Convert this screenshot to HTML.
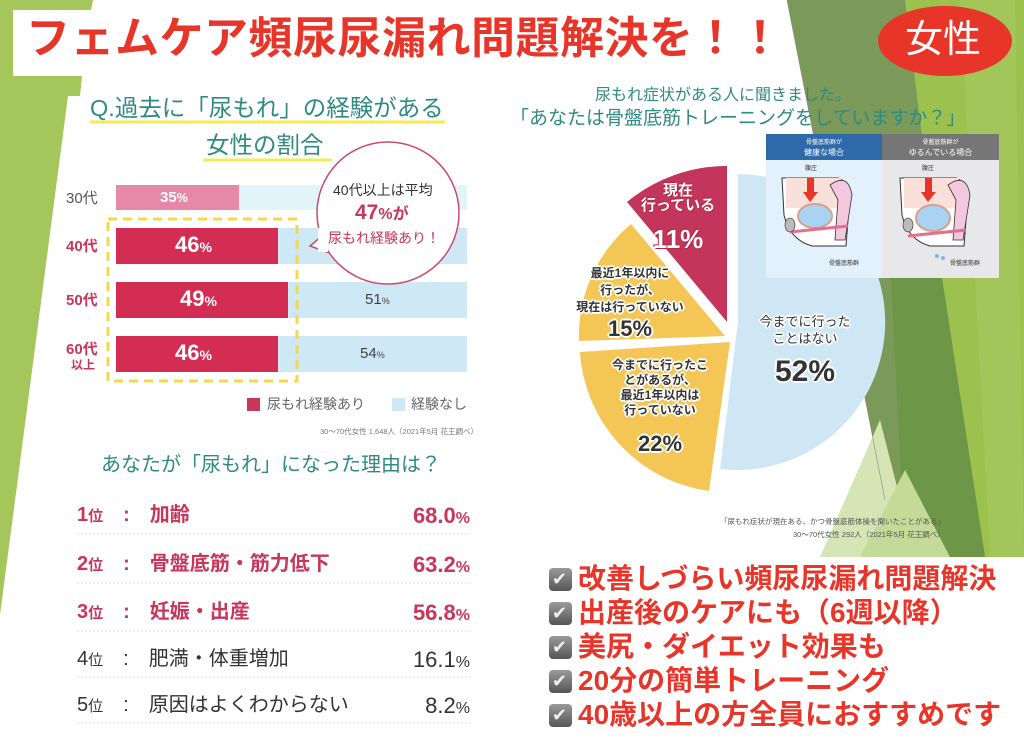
<!DOCTYPE html>
<html><head><meta charset="utf-8">
<style>
body{margin:0;width:1024px;height:742px;overflow:hidden;background:#fff;position:relative;font-family:"Liberation Sans","Noto Sans CJK JP",sans-serif;}
.a{position:absolute;white-space:nowrap;line-height:1;}
.teal{color:#2f8a82;}
.o{text-shadow:1px 1px 0 #fff,-1px -1px 0 #fff,1px -1px 0 #fff,-1px 1px 0 #fff,0 2px 0 #fff,2px 0 0 #fff,0 -2px 0 #fff,-2px 0 0 #fff;color:#333;font-weight:bold;text-align:center;}
.w{color:#fff;text-shadow:1px 1px 0 #b02848,-1px -1px 0 #b02848;}
.rk{font-size:20px;font-weight:bold;}
.chk{position:absolute;left:549px;width:23px;height:23px;border-radius:4px;background:linear-gradient(#9a9a9a,#555);}
.chk:after{content:"✔";position:absolute;left:3px;top:0;color:#eee;font-size:18px;line-height:23px;}
.cl{position:absolute;left:578px;font-size:28px;font-weight:bold;color:#e8352a;line-height:1;white-space:nowrap;}
</style></head><body>
<svg width="1024" height="742" style="position:absolute;left:0;top:0">
<polygon points="0,0 93,0 91,10 13,10 13,76 82,76 80,96 68,96 0,615" fill="#a4c65a"/>
<polygon points="787,0 1024,0 1024,557 820,557 885,500" fill="#9dc14f"/>
<polygon points="787,0 905,0 930,200 985,557 900,557 885,500" fill="#7b9a59"/>
<polygon points="890,260 930,200 985,557 905,557" fill="#6d9646"/>
<polygon points="960,0 1015,0 1024,557 990,557" fill="#a3c65a"/>
<polygon points="820,557 880,420 915,557" fill="#d6e5b5"/>
<polygon points="860,557 905,470 950,557" fill="#c4da98"/>
<line x1="787" y1="0" x2="885" y2="500" stroke="#888" stroke-width="0.6"/>
<ellipse cx="945" cy="41" rx="67" ry="35" fill="#e8352a"/>
<rect x="116" y="185" width="351" height="25" fill="#e3f3fa"/>
<rect x="116" y="185" width="123" height="25" fill="#e689a8"/>
<rect x="116" y="228" width="351" height="36" fill="#cfe8f5"/>
<rect x="116" y="228" width="162" height="36" fill="#d42d53"/>
<rect x="116" y="282" width="351" height="36" fill="#cfe8f5"/>
<rect x="116" y="282" width="172" height="36" fill="#d42d53"/>
<rect x="116" y="336" width="351" height="36" fill="#cfe8f5"/>
<rect x="116" y="336" width="162" height="36" fill="#d42d53"/>
<rect x="108" y="219" width="189" height="162" fill="none" stroke="#f5d94a" stroke-width="3" stroke-dasharray="9,6"/>
<line x1="90" y1="122" x2="445" y2="122" stroke="#f6ea55" stroke-width="3"/>
<line x1="203" y1="160" x2="332" y2="160" stroke="#f6ea55" stroke-width="3"/>
<polygon points="310,246 335,225 335,255" fill="#fff" stroke="#c94a6c" stroke-width="1.5"/>
<circle cx="388" cy="213" r="71" fill="#fff" stroke="#c94a6c" stroke-width="1.5"/>
<rect x="318" y="228" width="10" height="24" fill="#fff"/>
<rect x="247" y="398" width="13" height="13" fill="#c8365a"/>
<rect x="392" y="398" width="13" height="13" fill="#cfe8f5"/>
<g stroke="#ddd" stroke-dasharray="2,2">
<line x1="77" y1="534" x2="470" y2="534"/><line x1="77" y1="583" x2="470" y2="583"/>
<line x1="77" y1="631" x2="470" y2="631"/><line x1="77" y1="677" x2="470" y2="677"/>
<line x1="77" y1="723" x2="470" y2="723"/></g>
<path d="M738,322 L738,174 A148,148 0 1,1 720,469 Z" fill="#cfe7f5"/>
<path d="M730,342 L709,491 A150,150 0 0,1 580,352 Z" fill="#f4c655"/>
<path d="M725,336 L579,341 A146,146 0 0,1 631,224 Z" fill="#f4c655"/>
<path d="M727,322 L627,202 A156,156 0 0,1 727,166 Z" fill="#c3355a"/>
<rect x="766" y="134" width="233" height="144" rx="3" fill="#e2f1fb"/>
<rect x="882" y="134" width="117" height="144" fill="#e8e8ea"/>
<rect x="766" y="134" width="116" height="26" fill="#2e6aaa"/>
<rect x="882" y="134" width="117" height="26" fill="#767676"/>
<g>
<path d="M782,178 L838,178 Q850,180 848,220 L846,246 L812,246 Q790,240 784,215 Z" fill="#fff" stroke="#333"/>
<rect x="786" y="178" width="55" height="30" fill="#f9e0da"/>
<path d="M830,185 Q848,172 852,195 L845,240 L835,240 L838,200 Z" fill="#f3c7de" stroke="#333" stroke-width="0.8"/>
<ellipse cx="815" cy="216" rx="17" ry="12" fill="#a9d3f2" stroke="#d9a08a" stroke-width="2"/>
<rect x="807" y="178" width="7" height="14" fill="#e8352a"/><polygon points="803,192 818,192 810,202" fill="#e8352a"/>
<line x1="790" y1="232" x2="848" y2="226" stroke="#e0708e" stroke-width="3"/>
<ellipse cx="790" cy="225" rx="5" ry="7" fill="#bbb" stroke="#333" stroke-width="0.6"/>
</g>
<g>
<path d="M900,178 L956,178 Q968,180 966,220 L964,246 L930,246 Q908,240 902,215 Z" fill="#fff" stroke="#333"/>
<rect x="904" y="178" width="55" height="30" fill="#f9e0da"/>
<path d="M948,185 Q966,172 970,195 L963,240 L953,240 L956,200 Z" fill="#f3c7de" stroke="#333" stroke-width="0.8"/>
<ellipse cx="933" cy="218" rx="17" ry="13" fill="#a9d3f2" stroke="#d9a08a" stroke-width="2"/>
<rect x="925" y="178" width="7" height="14" fill="#e8352a"/><polygon points="921,192 936,192 928,202" fill="#e8352a"/>
<line x1="908" y1="236" x2="966" y2="230" stroke="#e0708e" stroke-width="3"/>
<ellipse cx="908" cy="225" rx="5" ry="7" fill="#bbb" stroke="#333" stroke-width="0.6"/>
<circle cx="937" cy="256" r="2" fill="#7ab8e8"/><circle cx="943" cy="258" r="2" fill="#7ab8e8"/>
</g>
</svg>

<div class="a" style="left:26px;top:17px;font-size:44px;font-weight:bold;color:#e8352a;letter-spacing:0.5px;">フェムケア頻尿尿漏れ問題解決を！！</div>
<div class="a" style="left:905px;top:21px;font-size:38px;color:#fff;">女性</div>

<div class="a teal" style="left:90px;top:97px;font-size:23.5px;">Q.過去に「尿もれ」の経験がある</div>
<div class="a teal" style="left:206px;top:134px;font-size:23.5px;">女性の割合</div>

<div class="a" style="left:66px;top:191px;font-size:15px;color:#555;">30代</div>
<div class="a" style="left:66px;top:239px;font-size:15px;color:#c8365a;font-weight:bold;">40代</div>
<div class="a" style="left:66px;top:293px;font-size:15px;color:#c8365a;font-weight:bold;">50代</div>
<div class="a" style="left:66px;top:342px;font-size:15px;color:#c8365a;font-weight:bold;">60代</div>
<div class="a" style="left:71px;top:359px;font-size:12px;color:#c8365a;font-weight:bold;">以上</div>

<div class="a" style="left:160px;top:190px;font-size:15px;color:#fff;font-weight:bold;">35<small>%</small></div>
<div class="a" style="left:175px;top:234px;font-size:22px;color:#fff;font-weight:bold;">46<small style="font-size:14px">%</small></div>
<div class="a" style="left:180px;top:288px;font-size:22px;color:#fff;font-weight:bold;">49<small style="font-size:14px">%</small></div>
<div class="a" style="left:175px;top:342px;font-size:22px;color:#fff;font-weight:bold;">46<small style="font-size:14px">%</small></div>
<div class="a" style="left:365px;top:292px;font-size:15px;color:#444;">51<small style="font-size:9px">%</small></div>
<div class="a" style="left:360px;top:346px;font-size:15px;color:#444;">54<small style="font-size:9px">%</small></div>

<div class="a" style="left:333px;top:183px;font-size:14px;color:#333;">40代以上は平均</div>
<div class="a" style="left:355px;top:202px;font-size:21px;color:#c8365a;font-weight:bold;">47<span style="font-size:16px">%が</span></div>
<div class="a" style="left:328px;top:231px;font-size:14px;color:#c8365a;">尿もれ経験あり！</div>

<div class="a" style="left:267px;top:397px;font-size:14px;color:#666;">尿もれ経験あり</div>
<div class="a" style="left:411px;top:397px;font-size:14px;color:#666;">経験なし</div>
<div class="a" style="left:320px;top:428px;font-size:7.5px;color:#777;">30〜70代女性 1,648人（2021年5月 花王調べ）</div>

<div class="a teal" style="left:101px;top:455px;font-size:20px;">あなたが「尿もれ」になった理由は？</div>

<div class="a rk" style="left:77px;top:505px;color:#c8365a;">1<small style="font-size:15px">位</small>　:　加齢</div>
<div class="a rk" style="left:77px;top:554px;color:#c8365a;">2<small style="font-size:15px">位</small>　:　骨盤底筋・筋力低下</div>
<div class="a rk" style="left:77px;top:602px;color:#c8365a;">3<small style="font-size:15px">位</small>　:　妊娠・出産</div>
<div class="a rk" style="left:77px;top:649px;color:#333;font-weight:normal;">4<small style="font-size:15px">位</small>　:　肥満・体重増加</div>
<div class="a rk" style="left:77px;top:695px;color:#333;font-weight:normal;">5<small style="font-size:15px">位</small>　:　原因はよくわからない</div>
<div class="a rk" style="right:554px;top:505px;color:#c8365a;font-size:22px;">68.0<small style="font-size:16px">%</small></div>
<div class="a rk" style="right:554px;top:554px;color:#c8365a;font-size:22px;">63.2<small style="font-size:16px">%</small></div>
<div class="a rk" style="right:554px;top:602px;color:#c8365a;font-size:22px;">56.8<small style="font-size:16px">%</small></div>
<div class="a rk" style="right:554px;top:649px;color:#333;font-size:22px;font-weight:normal;">16.1<small style="font-size:16px">%</small></div>
<div class="a rk" style="right:554px;top:695px;color:#333;font-size:22px;font-weight:normal;">8.2<small style="font-size:16px">%</small></div>

<div class="a teal" style="left:595px;top:88px;font-size:16px;">尿もれ症状がある人に聞きました。</div>
<div class="a teal" style="left:510px;top:109px;font-size:19px;">「あなたは骨盤底筋トレーニングをしていますか？」</div>

<div class="a" style="left:766px;top:140px;width:116px;text-align:center;font-size:6px;color:#fff;">骨盤底筋群が</div>
<div class="a" style="left:766px;top:149px;width:116px;text-align:center;font-size:8px;color:#fff;">健康な場合</div>
<div class="a" style="left:882px;top:140px;width:117px;text-align:center;font-size:6px;color:#fff;">骨盤底筋群が</div>
<div class="a" style="left:882px;top:149px;width:117px;text-align:center;font-size:8px;color:#fff;">ゆるんでいる場合</div>
<div class="a" style="left:805px;top:166px;font-size:6px;color:#333;">腹圧</div>
<div class="a" style="left:922px;top:166px;font-size:6px;color:#333;">腹圧</div>
<div class="a" style="left:829px;top:261px;font-size:6px;color:#333;">骨盤底筋群</div>
<div class="a" style="left:950px;top:261px;font-size:6px;color:#333;">骨盤底筋群</div>

<div class="a o w" style="left:638px;top:183px;width:80px;font-size:15px;">現在<br>行っている</div>
<div class="a o w" style="left:638px;top:226px;width:80px;font-size:26px;">11%</div>
<div class="a o" style="left:575px;top:265px;width:110px;font-size:12px;line-height:1.4;">最近1年以内に<br>行ったが、<br>現在は行っていない</div>
<div class="a o" style="left:600px;top:318px;width:60px;font-size:22px;">15%</div>
<div class="a o" style="left:610px;top:358px;width:100px;font-size:12px;line-height:1.25;">今までに行ったこ<br>とがあるが、<br>最近1年以内は<br>行っていない</div>
<div class="a o" style="left:625px;top:433px;width:70px;font-size:22px;">22%</div>
<div class="a o" style="left:750px;top:314px;width:110px;font-size:13px;line-height:1.3;font-weight:normal;">今までに行った<br>ことはない</div>
<div class="a o" style="left:760px;top:357px;width:90px;font-size:30px;">52%</div>

<div class="a" style="left:720px;top:518px;font-size:7.5px;color:#555;">「尿もれ症状が現在ある、かつ骨盤底筋体操を聞いたことがある」</div>
<div class="a" style="left:793px;top:531px;font-size:7.5px;color:#555;">30〜70代女性 292人（2021年5月 花王調べ）</div>

<div style="position:absolute;left:530px;top:557px;width:494px;height:185px;background:#fff;"></div>
<div class="chk" style="top:568px"></div><div class="cl" style="top:565px">改善しづらい頻尿尿漏れ問題解決</div>
<div class="chk" style="top:602px"></div><div class="cl" style="top:599px">出産後のケアにも（6週以降）</div>
<div class="chk" style="top:636px"></div><div class="cl" style="top:633px">美尻・ダイエット効果も</div>
<div class="chk" style="top:670px"></div><div class="cl" style="top:667px">20分の簡単トレーニング</div>
<div class="chk" style="top:704px"></div><div class="cl" style="top:701px">40歳以上の方全員におすすめです</div>
</body></html>
